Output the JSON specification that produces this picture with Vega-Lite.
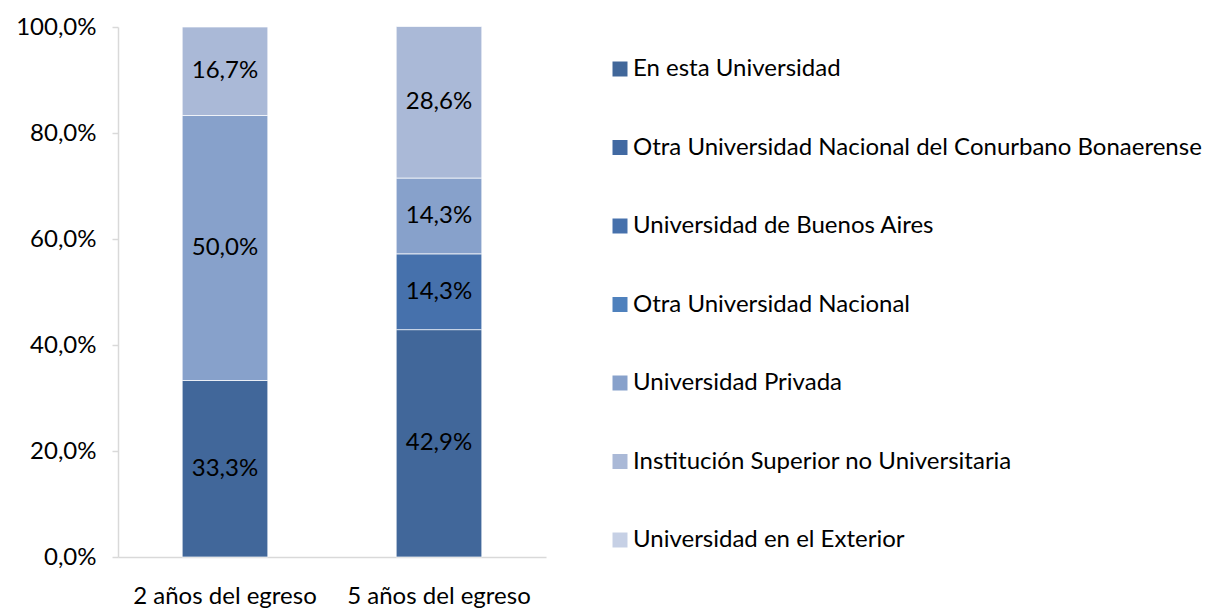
{
  "$schema": "https://vega.github.io/schema/vega-lite/v6.json",
  "autosize": "none",
  "width": 428,
  "height": 530,
  "padding": {"left": 118, "top": 27, "right": 666, "bottom": 55},
  "background": "white",
  "config": {
    "locale": {"number": {"decimal": ",", "thousands": ".", "grouping": [3], "currency": ["", " €"]}},
    "font": "Lato",
    "view": {"stroke": null}
  },
  "data": {
    "values": [
      {"momento": "2 años del egreso", "destino": "En esta Universidad", "orden": 1, "valor": 0.333},
      {"momento": "2 años del egreso", "destino": "Universidad Privada", "orden": 5, "valor": 0.5},
      {"momento": "2 años del egreso", "destino": "Institución Superior no Universitaria", "orden": 6, "valor": 0.167},
      {"momento": "5 años del egreso", "destino": "En esta Universidad", "orden": 1, "valor": 0.429},
      {"momento": "5 años del egreso", "destino": "Universidad de Buenos Aires", "orden": 3, "valor": 0.143},
      {"momento": "5 años del egreso", "destino": "Universidad Privada", "orden": 5, "valor": 0.143},
      {"momento": "5 años del egreso", "destino": "Institución Superior no Universitaria", "orden": 6, "valor": 0.286}
    ]
  },
  "encoding": {
    "x": {
      "field": "momento", "type": "nominal",
      "scale": {"paddingInner": 0.6, "paddingOuter": 0.3},
      "axis": {"title": null, "labelAngle": 0, "labelFontSize": 24, "labelColor": "#000000", "labelPadding": 27, "labelLimit": 0, "labelOverlap": false, "ticks": false, "domainColor": "#D9D9D9", "domainWidth": 1.5, "labelFont": "Lato"}
    }
  },
  "layer": [
    {
      "mark": {"type": "bar", "stroke": "white", "strokeWidth": 0.7},
      "encoding": {
        "y": {
          "field": "valor", "type": "quantitative", "stack": "zero",
          "scale": {"domain": [0, 1], "nice": false},
          "axis": {"title": null, "format": ".1%", "values": [0, 0.2, 0.4, 0.6, 0.8, 1], "grid": false, "labelFontSize": 24, "labelColor": "#000000", "labelPadding": 16, "tickSize": 6, "tickColor": "#D9D9D9", "domainColor": "#D9D9D9", "domainWidth": 1.5, "tickWidth": 1.5, "labelFont": "Lato"}
        },
        "color": {
          "field": "destino", "type": "nominal",
          "scale": {
            "domain": ["En esta Universidad", "Otra Universidad Nacional del Conurbano Bonaerense", "Universidad de Buenos Aires", "Otra Universidad Nacional", "Universidad Privada", "Institución Superior no Universitaria", "Universidad en el Exterior"],
            "range": ["#41679A", "#4169A2", "#4671AC", "#4F81BD", "#87A1CB", "#AAB9D7", "#C6D0E5"]
          },
          "legend": {
            "title": null, "orient": "none", "legendX": 490, "legendY": 30,
            "symbolType": "square", "symbolSize": 225, "symbolStrokeWidth": 0,
            "labelFontSize": 24, "labelColor": "#000000", "labelFont": "Lato",
            "rowPadding": 54.5, "labelOffset": 1, "labelLimit": 700
          }
        },
        "order": {"field": "orden", "type": "quantitative", "sort": "ascending"}
      }
    },
    {
      "mark": {"type": "text", "fontSize": 24, "color": "#000000", "font": "Lato"},
      "encoding": {
        "y": {"field": "valor", "type": "quantitative", "stack": "zero", "bandPosition": 0.5},
        "text": {"field": "valor", "type": "quantitative", "format": ".1%"},
        "detail": {"field": "destino"},
        "order": {"field": "orden", "type": "quantitative", "sort": "ascending"}
      }
    }
  ]
}
